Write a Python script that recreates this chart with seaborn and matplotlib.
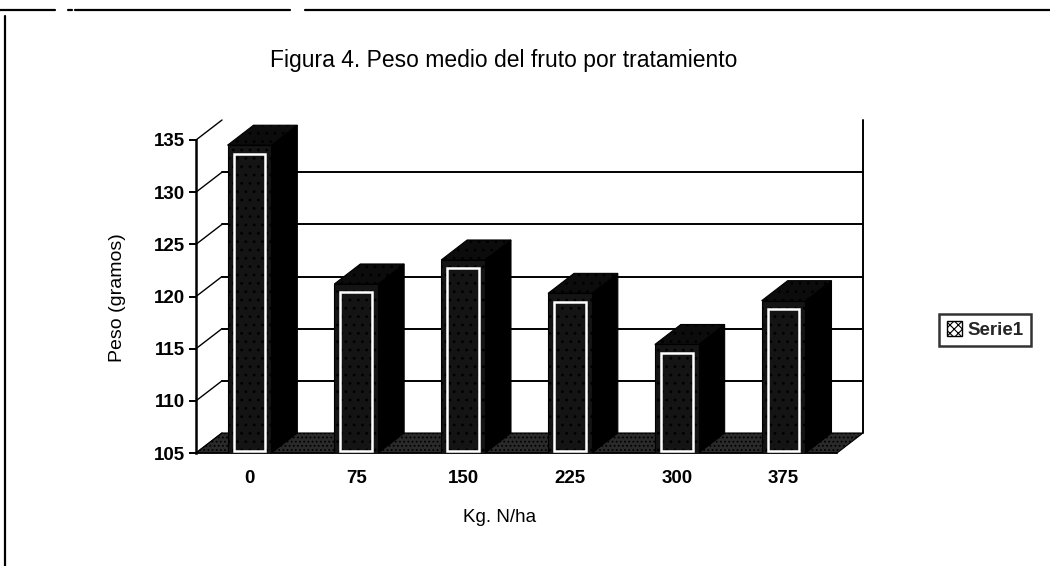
import numpy as np
import pandas as pd
import matplotlib
matplotlib.use("Agg")
import matplotlib.pyplot as plt
import seaborn as sns
from matplotlib.patches import Polygon, Rectangle, Patch
from matplotlib.lines import Line2D

# datos
dosis = ["0", "75", "150", "225", "300", "375"]
peso = [134.5, 121.2, 123.5, 120.3, 115.4, 119.6]
yticks = [105, 110, 115, 120, 125, 130, 135]

df = pd.DataFrame({"dosis": dosis, "peso": peso})

sns.set_theme(style="white")
plt.rcParams["font.family"] = ["Liberation Sans", "DejaVu Sans"]
plt.rcParams["hatch.color"] = "#cfcfcf"
plt.rcParams["hatch.linewidth"] = 0.8

W, H = 1050, 566
fig = plt.figure(figsize=(W / 100, H / 100), dpi=100)
fig.patch.set_facecolor("white")

# plano frontal del grafico (px)
left, right, bottom, top = 196, 837, 453, 140
ax = fig.add_axes([left / W, 1 - bottom / H, (right - left) / W, (bottom - top) / H])

sns.barplot(data=df, x="dosis", y="peso", color="#141414", width=0.41,
            saturation=1, ax=ax, zorder=5, edgecolor="black", linewidth=0.8)

ax.set_xlim(-0.5, len(dosis) - 0.5)
ax.set_ylim(yticks[0], yticks[-1])
ax.set_yticks(yticks)
ax.set_facecolor("none")

# profundidad 3D en unidades de datos
depth_px_x, depth_px_y = 26, 20
x0, x1 = ax.get_xlim()
y0, y1 = ax.get_ylim()
dx = depth_px_x * (x1 - x0) / (right - left)
dy = depth_px_y * (y1 - y0) / (bottom - top)


def poly(pts, **kw):
    p = Polygon(pts, closed=True, clip_on=False, **kw)
    ax.add_patch(p)
    return p


# pared del fondo y lateral
ax.add_line(Line2D([x1 + dx, x1 + dx], [y0 + dy, y1 + dy], color="black", lw=1.4,
                   clip_on=False, zorder=1))
for t in yticks[1:-1]:
    ax.add_line(Line2D([x0 + dx, x1 + dx], [t + dy, t + dy], color="black", lw=1.4,
                       clip_on=False, zorder=1))
for t in yticks:
    ax.add_line(Line2D([x0, x0 + dx], [t, t + dy], color="black", lw=1.0,
                       clip_on=False, zorder=1))

# suelo
poly([(x0, y0), (x1, y0), (x1 + dx, y0 + dy), (x0 + dx, y0 + dy)],
     facecolor="#2a2a2a", edgecolor="black", hatch="....", lw=0.8, zorder=2)

# caras laterales y superiores de las barras
for bar in list(ax.patches):
    if not isinstance(bar, Rectangle) or bar.get_zorder() != 5:
        continue
    bx = bar.get_x()
    bw = bar.get_width()
    bt = bar.get_y() + bar.get_height()
    bb = y0
    poly([(bx + bw, bb), (bx + bw + dx, bb + dy), (bx + bw + dx, bt + dy), (bx + bw, bt)],
         facecolor="black", edgecolor="black", lw=0.8, zorder=4)
    poly([(bx, bt), (bx + bw, bt), (bx + bw + dx, bt + dy), (bx + dx, bt + dy)],
         facecolor="#0c0c0c", edgecolor="black", hatch="..", lw=0.8, zorder=4)
    inner = Rectangle((bx + bw * 0.14, bb + 0.2), bw * 0.72, bt - bb - 1.0,
                      facecolor="none", edgecolor="white", lw=1.8, zorder=6)
    ax.add_patch(inner)
    bar.set_hatch("..")

for s in ["top", "right"]:
    ax.spines[s].set_visible(False)
ax.spines["left"].set_color("black")
ax.spines["left"].set_linewidth(1.8)
ax.spines["bottom"].set_color("black")
ax.spines["bottom"].set_linewidth(1.2)
ax.spines["left"].set_zorder(7)

ax.tick_params(axis="y", left=True, length=5, width=1.4, color="black",
               labelsize=13.5, pad=3, labelcolor="black")
ax.tick_params(axis="x", bottom=False, labelsize=13.5, pad=6, labelcolor="black")
for lab in ax.get_xticklabels() + ax.get_yticklabels():
    lab.set_fontweight("bold")
ax.set_xlabel("")
ax.set_ylabel("")

fig.text(504 / W, 1 - 60 / H, "Figura 4. Peso medio del fruto por tratamiento",
         ha="center", va="center", fontsize=16.5, color="black")
fig.text(118 / W, 1 - 298 / H, "Peso (gramos)", rotation=90,
         ha="center", va="center", fontsize=14, color="black")
fig.text(500 / W, 1 - 517 / H, "Kg. N/ha", ha="center", va="center",
         fontsize=13.5, color="black")

leg = fig.legend(handles=[Patch(facecolor="white", edgecolor="black", hatch="xxxx")],
                 labels=["Serie1"], loc="center", bbox_to_anchor=(985 / W, 1 - 330 / H),
                 prop={"size": 13.5, "weight": "bold"}, frameon=True, fancybox=False,
                 handlelength=0.8, handleheight=0.8, handletextpad=0.3,
                 borderpad=0.4, borderaxespad=0)
leg.get_frame().set_edgecolor("black")
leg.get_frame().set_linewidth(1.8)

# bordes de la hoja escaneada
for a, b in [(0, 55), (68, 72), (75, 290), (305, 1050)]:
    fig.add_artist(Line2D([a / W, b / W], [1 - 10 / H, 1 - 10 / H],
                          transform=fig.transFigure, color="black", lw=1.6))
fig.add_artist(Line2D([5 / W, 5 / W], [1 - 16 / H, 0], transform=fig.transFigure,
                      color="black", lw=1.6))

fig.savefig("out.png", dpi=100, facecolor="white")
